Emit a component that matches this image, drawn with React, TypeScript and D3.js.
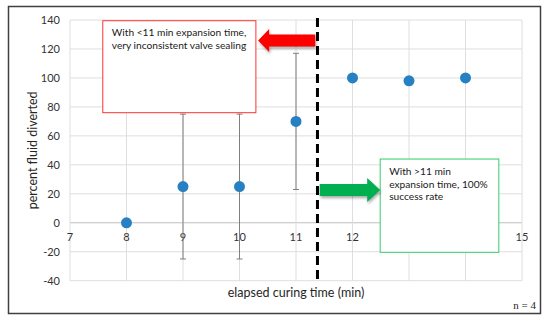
import { useEffect, useRef } from "react";
import * as d3 from "d3";

const times = [8, 9, 10, 11, 12, 13, 14];
const diverted = [0, 25, 25, 70, 100, 98, 100];
const errors = [0, 50, 50, 47, 0, 0, 0];
const xTicks = [7, 8, 9, 10, 11, 12, 13, 14, 15];
const yTicks = [-40, -20, 0, 20, 40, 60, 80, 100, 120, 140];
const divider = 11.38;
const redNote = ["With <11 min expansion time,", "very inconsistent valve sealing"];
const greenNote = ["With >11 min", "expansion time, 100%", "success rate"];

const W = 550,
  H = 321;
const margin = { top: 20, right: 28, bottom: 40, left: 70 };
const font = "Lato, 'Noto Sans', sans-serif";

function App() {
  const svgRef = useRef(null);

  useEffect(() => {
    document.body.style.margin = "0";
    const svg = d3.select(svgRef.current);
    svg.selectAll("*").remove();

    const x = d3.scaleLinear().domain([7, 15]).range([margin.left, W - margin.right]);
    const y = d3.scaleLinear().domain([-40, 140]).range([280.7, margin.top]);

    // outer frame
    svg
      .append("rect")
      .attr("x", 8.5)
      .attr("y", 6.5)
      .attr("width", 532)
      .attr("height", 307)
      .attr("fill", "white")
      .attr("stroke", "#404040")
      .attr("stroke-width", 1.5);

    // grid
    svg
      .append("g")
      .selectAll("line")
      .data(yTicks)
      .enter()
      .append("line")
      .attr("x1", x(7))
      .attr("x2", x(15))
      .attr("y1", (d) => y(d))
      .attr("y2", (d) => y(d))
      .attr("stroke", (d) => (d === 0 ? "#bfbfbf" : "#dedede"))
      .attr("stroke-width", 1);

    svg
      .append("g")
      .selectAll("line")
      .data(xTicks)
      .enter()
      .append("line")
      .attr("x1", (d) => x(d))
      .attr("x2", (d) => x(d))
      .attr("y1", y(140))
      .attr("y2", y(-40))
      .attr("stroke", "#dedede")
      .attr("stroke-width", 1);

    // tick labels
    svg
      .append("g")
      .selectAll("text")
      .data(yTicks)
      .enter()
      .append("text")
      .attr("x", margin.left - 10)
      .attr("y", (d) => y(d) + 4)
      .attr("text-anchor", "end")
      .attr("font-family", font)
      .attr("font-size", 11)
      .attr("fill", "#333")
      .text((d) => d);

    svg
      .append("g")
      .selectAll("text")
      .data(xTicks)
      .enter()
      .append("text")
      .attr("x", (d) => x(d))
      .attr("y", y(0) + 18)
      .attr("text-anchor", "middle")
      .attr("font-family", font)
      .attr("font-size", 11)
      .attr("fill", "#333")
      .text((d) => d);

    // axis titles
    svg
      .append("text")
      .attr("transform", `translate(37,${(y(140) + y(-40)) / 2}) rotate(-90)`)
      .attr("text-anchor", "middle")
      .attr("font-family", font)
      .attr("font-size", 12.5)
      .attr("fill", "#262626")
      .text("percent fluid diverted");

    svg
      .append("text")
      .attr("x", 296)
      .attr("y", 297)
      .attr("text-anchor", "middle")
      .attr("font-family", font)
      .attr("font-size", 12.5)
      .attr("fill", "#262626")
      .text("elapsed curing time (min)");

    svg
      .append("text")
      .attr("x", 536)
      .attr("y", 309)
      .attr("text-anchor", "end")
      .attr("font-family", "'Liberation Serif', serif")
      .attr("font-size", 11)
      .attr("fill", "#262626")
      .text("n = 4");

    // error bars
    const eb = svg.append("g").attr("stroke", "#7f7f7f").attr("stroke-width", 1);
    times.forEach((t, i) => {
      if (!errors[i]) return;
      const lo = y(diverted[i] - errors[i]);
      const hi = y(diverted[i] + errors[i]);
      eb.append("line").attr("x1", x(t)).attr("x2", x(t)).attr("y1", lo).attr("y2", hi);
      eb.append("line").attr("x1", x(t) - 3).attr("x2", x(t) + 3).attr("y1", lo).attr("y2", lo);
      eb.append("line").attr("x1", x(t) - 3).attr("x2", x(t) + 3).attr("y1", hi).attr("y2", hi);
    });

    // points
    svg
      .append("g")
      .selectAll("circle")
      .data(times)
      .enter()
      .append("circle")
      .attr("cx", (d) => x(d))
      .attr("cy", (d, i) => y(diverted[i]))
      .attr("r", 5.5)
      .attr("fill", "#2680c2");

    // dashed divider
    svg
      .append("line")
      .attr("x1", x(divider))
      .attr("x2", x(divider))
      .attr("y1", y(140) - 2)
      .attr("y2", y(-40))
      .attr("stroke", "black")
      .attr("stroke-width", 3)
      .attr("stroke-dasharray", "9,5");

    // red note
    const rx0 = x(7.58),
      rx1 = x(10.29),
      ry0 = y(139.5),
      ry1 = y(76);
    svg
      .append("rect")
      .attr("x", rx0)
      .attr("y", ry0)
      .attr("width", rx1 - rx0)
      .attr("height", ry1 - ry0)
      .attr("fill", "white")
      .attr("stroke", "#ff3333")
      .attr("stroke-width", 1);
    svg
      .append("g")
      .selectAll("text")
      .data(redNote)
      .enter()
      .append("text")
      .attr("x", rx0 + 9)
      .attr("y", (d, i) => ry0 + 15 + i * 13)
      .attr("font-family", font)
      .attr("font-size", 10.2)
      .attr("fill", "#1a1a1a")
      .text((d) => d);

    // red arrow (pointing left)
    const ay = y(125.8),
      tip = x(10.33),
      tail = x(11.34);
    svg
      .append("path")
      .attr(
        "d",
        `M${tip},${ay} L${tip + 11},${ay - 11.5} L${tip + 11},${ay - 6} L${tail},${ay - 6} L${tail},${ay + 6} L${tip + 11},${ay + 6} L${tip + 11},${ay + 11.5} Z`
      )
      .attr("fill", "#ff0000")
      .style("filter", "drop-shadow(1px 2px 1.5px rgba(0,0,0,0.35))");

    // green note
    const gx0 = x(12.49),
      gx1 = x(14.59),
      gy0 = y(44),
      gy1 = y(-20.4);
    svg
      .append("rect")
      .attr("x", gx0)
      .attr("y", gy0)
      .attr("width", gx1 - gx0)
      .attr("height", gy1 - gy0)
      .attr("fill", "white")
      .attr("stroke", "#33cc66")
      .attr("stroke-width", 1);
    svg
      .append("g")
      .selectAll("text")
      .data(greenNote)
      .enter()
      .append("text")
      .attr("x", gx0 + 9)
      .attr("y", (d, i) => gy0 + 16 + i * 12.7)
      .attr("font-family", font)
      .attr("font-size", 10.2)
      .attr("fill", "#1a1a1a")
      .text((d) => d);

    // green arrow (pointing right)
    const gy = y(22.6),
      gtail = x(11.42),
      gtip = x(12.49);
    svg
      .append("path")
      .attr(
        "d",
        `M${gtip},${gy} L${gtip - 13},${gy - 12} L${gtip - 13},${gy - 6} L${gtail},${gy - 6} L${gtail},${gy + 6} L${gtip - 13},${gy + 6} L${gtip - 13},${gy + 12} Z`
      )
      .attr("fill", "#00b050")
      .style("filter", "drop-shadow(1px 2px 1.5px rgba(0,0,0,0.35))");
  }, []);

  return (
    <div>
      <svg ref={svgRef} width={W} height={H} style={{ display: "block" }}></svg>
    </div>
  );
}

export default App;
